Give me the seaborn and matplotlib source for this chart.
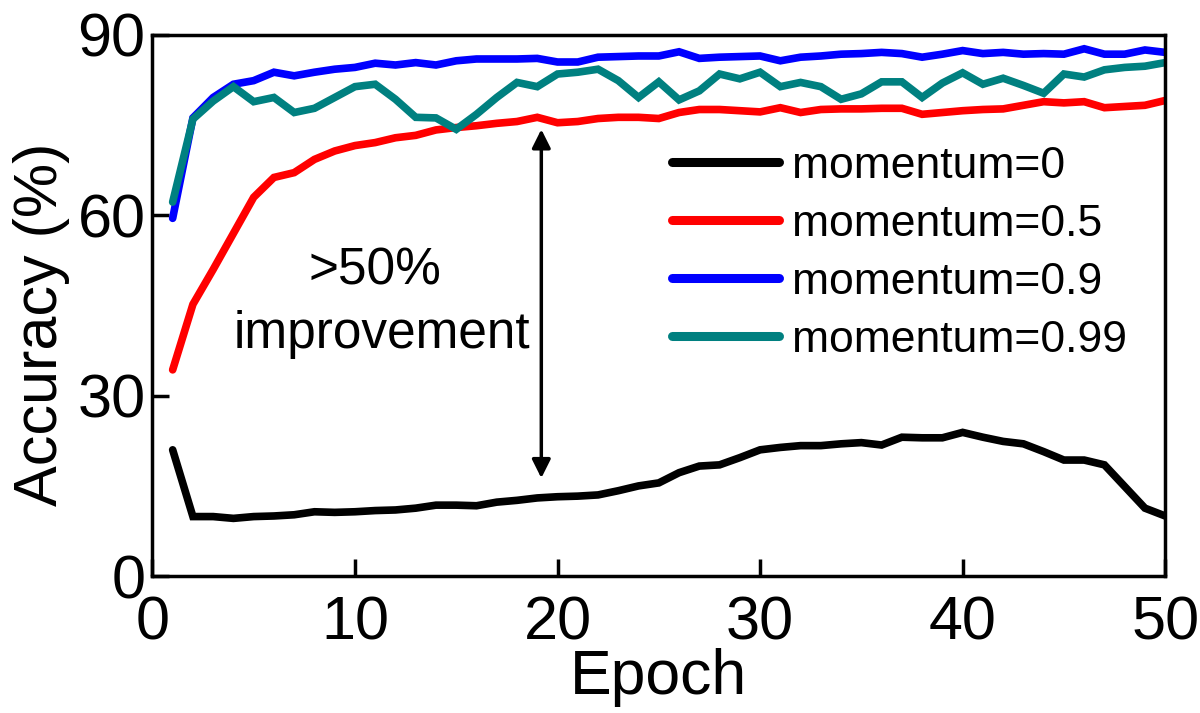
import matplotlib
matplotlib.use("Agg")
import matplotlib.pyplot as plt
import seaborn as sns
import numpy as np
import pandas as pd

epochs = list(range(1, 51))
acc_m0 = [21.0, 9.9, 9.9, 9.6, 9.9, 10.0, 10.2, 10.7, 10.6, 10.7,
          10.9, 11.0, 11.3, 11.8, 11.8, 11.7, 12.3, 12.6, 13.0, 13.2,
          13.3, 13.5, 14.2, 15.0, 15.5, 17.2, 18.3, 18.5, 19.7, 21.0,
          21.4, 21.7, 21.7, 22.0, 22.2, 21.8, 23.1, 23.0, 23.0, 23.9,
          23.1, 22.4, 22.0, 20.7, 19.3, 19.3, 18.5, 14.9, 11.3, 10.0]
acc_m05 = [34.3, 45.2, 51.0, 57.0, 63.0, 66.3, 67.1, 69.3, 70.7, 71.6,
           72.1, 72.9, 73.3, 74.2, 74.6, 74.9, 75.3, 75.6, 76.3, 75.4,
           75.6, 76.1, 76.3, 76.3, 76.1, 77.1, 77.6, 77.6, 77.4, 77.2,
           77.9, 77.1, 77.6, 77.7, 77.7, 77.8, 77.8, 76.8, 77.1, 77.4,
           77.6, 77.7, 78.3, 78.9, 78.7, 78.9, 77.9, 78.1, 78.3, 79.1]
acc_m09 = [59.5, 76.2, 79.6, 81.8, 82.4, 83.8, 83.2, 83.8, 84.3, 84.6,
           85.3, 85.0, 85.4, 85.0, 85.7, 86.0, 86.0, 86.0, 86.1, 85.5,
           85.5, 86.3, 86.4, 86.5, 86.5, 87.2, 86.1, 86.3, 86.4, 86.5,
           85.7, 86.3, 86.5, 86.8, 86.9, 87.1, 86.9, 86.3, 86.8, 87.4,
           86.9, 87.1, 86.8, 86.9, 86.8, 87.7, 86.8, 86.8, 87.5, 87.1]
acc_m099 = [62.2, 76.0, 79.0, 81.4, 78.9, 79.6, 77.1, 77.8, 79.6, 81.4,
            81.8, 79.3, 76.3, 76.2, 74.3, 76.8, 79.6, 82.1, 81.4, 83.5,
            83.8, 84.3, 82.4, 79.6, 82.2, 79.2, 80.7, 83.5, 82.7, 83.8,
            81.4, 82.1, 81.4, 79.3, 80.2, 82.2, 82.2, 79.6, 82.0, 83.7,
            81.8, 82.8, 81.6, 80.3, 83.5, 83.0, 84.2, 84.6, 84.8, 85.4]
labels = ["momentum=0", "momentum=0.5", "momentum=0.9", "momentum=0.99"]
colors = ["#000000", "#ff0000", "#0000ff", "#008080"]
x_ticks = [0, 10, 20, 30, 40, 50]
y_ticks = [0, 30, 60, 90]

sns.set_style("ticks")
plt.rcParams["font.family"] = ["Liberation Sans", "DejaVu Sans"]
plt.rcParams["text.color"] = "black"
plt.rcParams["axes.labelcolor"] = "black"
plt.rcParams["xtick.color"] = "black"
plt.rcParams["ytick.color"] = "black"

df = pd.DataFrame({
    "Epoch": epochs * 4,
    "Accuracy": acc_m0 + acc_m05 + acc_m09 + acc_m099,
    "series": sum([[l] * len(epochs) for l in labels], []),
})

fig = plt.figure(figsize=(12, 7.13), dpi=100)
ax = fig.add_axes([0.127, 0.192, 0.844, 0.759])

sns.lineplot(data=df, x="Epoch", y="Accuracy", hue="series",
             hue_order=labels, palette=dict(zip(labels, colors)),
             linewidth=5.5, ax=ax, legend=True)
for ln in ax.get_lines():
    ln.set_solid_capstyle("round")
    ln.set_solid_joinstyle("miter")

ax.set_xlim(0, 50)
ax.set_ylim(0, 90)
ax.set_xticks(x_ticks)
ax.set_yticks(y_ticks)
ax.tick_params(direction="in", length=12, width=2.5, labelsize=44,
               colors="black")
ax.tick_params(axis="y", pad=5)
ax.tick_params(axis="x", pad=14)
for s in ax.spines.values():
    s.set_linewidth(2.5)
    s.set_color("black")
ax.set_xlabel("Epoch", fontsize=45, labelpad=-3)
ax.set_ylabel("Accuracy (%)", fontsize=44)
ax.yaxis.set_label_coords(-0.081, 0.466)

# annotation
ax.annotate("", xy=(19.2, 16.3), xytext=(19.2, 74.3),
            arrowprops=dict(arrowstyle="<|-|>", color="black", lw=2.5,
                            mutation_scale=28, shrinkA=0, shrinkB=0))
ax.text(11.0, 48.5, ">50%", fontsize=37, ha="center", va="baseline")
ax.text(11.35, 38.0, "improvement", fontsize=37, ha="center", va="baseline")

handles, lbls = ax.get_legend_handles_labels()
leg = ax.legend(handles, lbls, loc="upper left", bbox_to_anchor=(0.513, 0.795),
                frameon=False, fontsize=32, handlelength=2.4,
                handletextpad=0.3, labelspacing=0.38, borderpad=0,
                borderaxespad=0)
for h in leg.get_lines():
    h.set_linewidth(6.5)
    h.set_solid_capstyle("round")

fig.savefig("out.png", dpi=100)
